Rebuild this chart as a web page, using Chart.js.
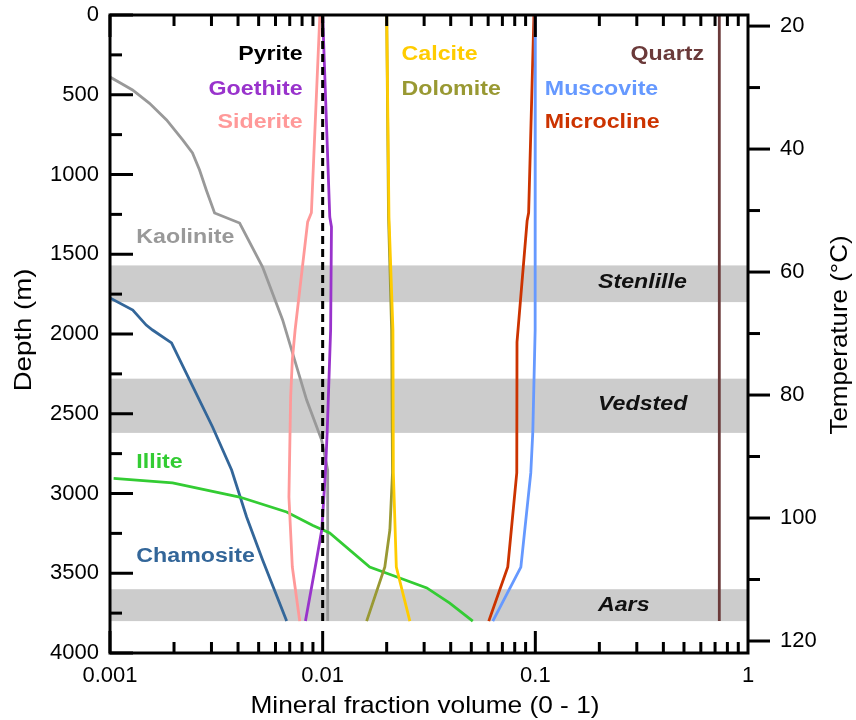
<!DOCTYPE html>
<html><head><meta charset="utf-8">
<script src="https://cdn.jsdelivr.net/npm/chart.js@4.4.0/dist/chart.umd.min.js"></script>
<style>html,body{margin:0;padding:0;background:#fff;}#wrap{width:856px;height:720px;}</style>
</head><body><div id="wrap"><canvas id="c" width="856" height="720"></canvas></div>
<script>
// ---- data ----
const xTickValues = [0.001, 0.01, 0.1, 1];
const xTickLabels = ['0.001', '0.01', '0.1', '1'];
const depthTickValues = [0, 500, 1000, 1500, 2000, 2500, 3000, 3500, 4000];
const tempTickValues = [20, 40, 60, 80, 100, 120];
const tempMinorValues = [30, 50, 70, 90, 110];

const pyriteDepth = [0, 3800];
const pyriteVal = [0.0100, 0.0100];
const goethiteDepth = [0, 1266, 1329, 1975, 2614, 2871, 3229, 3436, 3800];
const goethiteVal = [0.0100, 0.0108, 0.0110, 0.0109, 0.0105, 0.0103, 0.0099, 0.0093, 0.0083];
const sideriteDepth = [0, 1240, 1297, 1975, 2163, 2395, 3022, 3461, 3800];
const sideriteVal = [0.0097, 0.00885, 0.0085, 0.00742, 0.0072, 0.00707, 0.00694, 0.0072, 0.0078];
const calciteDepth = [0, 1266, 1975, 2871, 3461, 3800];
const calciteVal = [0.0200, 0.0205, 0.0214, 0.0215, 0.0222, 0.0257];
const dolomiteDepth = [0, 1266, 1975, 2871, 3229, 3461, 3800];
const dolomiteVal = [0.0200, 0.0204, 0.0211, 0.0213, 0.0207, 0.0196, 0.0161];
const muscoviteDepth = [0, 1975, 2614, 2871, 3461, 3800];
const muscoviteVal = [0.1000, 0.0998, 0.0973, 0.0952, 0.0855, 0.0631];
const microclineDepth = [0, 1240, 1290, 2050, 2870, 3460, 3800];
const microclineVal = [0.0985, 0.0930, 0.0915, 0.0820, 0.0818, 0.0742, 0.0604];
const quartzDepth = [0, 3800];
const quartzVal = [0.733, 0.733];
const kaoliniteDepth = [389, 430, 470, 554, 658, 784, 865, 972, 1097, 1241, 1304, 1580, 1912, 2414, 2665, 2853, 3800];
const kaoliniteVal = [0.00100, 0.00113, 0.001276, 0.001534, 0.001845, 0.002201, 0.002443, 0.002637, 0.002836, 0.003103, 0.004069, 0.005219, 0.006483, 0.008409, 0.00989, 0.01056, 0.01056];
const chamositeDepth = [1774, 1850, 1944, 1975, 2056, 2288, 2583, 2853, 3147, 3417, 3800];
const chamositeVal = [0.00100, 0.00128, 0.00148, 0.001585, 0.001947, 0.002366, 0.003036, 0.003731, 0.004389, 0.005219, 0.006771];
const illiteDepth = [2905, 2934, 3022, 3116, 3200, 3248, 3461, 3530, 3592, 3687, 3800];
const illiteVal = [0.00104, 0.001968, 0.004069, 0.006771, 0.00900, 0.01079, 0.01664, 0.02304, 0.03087, 0.0396, 0.0508];

const bandNames = ['Stenlille', 'Vedsted', 'Aars'];
const bandTop = [1570, 2280, 3600];
const bandBottom = [1800, 2620, 3800];

// ---- styles / annotation placement ----
const FONT = "'Liberation Sans', Arial, sans-serif";
const series = [
  {name:'Pyrite', d:pyriteDepth, v:pyriteVal, color:'#000000', dash:[8,5], w:3},
  {name:'Goethite', d:goethiteDepth, v:goethiteVal, color:'#9933cc'},
  {name:'Siderite', d:sideriteDepth, v:sideriteVal, color:'#ff9999'},
  {name:'Calcite', d:calciteDepth, v:calciteVal, color:'#ffcc00'},
  {name:'Dolomite', d:dolomiteDepth, v:dolomiteVal, color:'#999933'},
  {name:'Muscovite', d:muscoviteDepth, v:muscoviteVal, color:'#6699ff'},
  {name:'Microcline', d:microclineDepth, v:microclineVal, color:'#cc3300'},
  {name:'Quartz', d:quartzDepth, v:quartzVal, color:'#6b3a3a'},
  {name:'Illite', d:illiteDepth, v:illiteVal, color:'#33cc33'},
  {name:'Chamosite', d:chamositeDepth, v:chamositeVal, color:'#336699'},
  {name:'Kaolinite', d:kaoliniteDepth, v:kaoliniteVal, color:'#999999'}
];
const labelPlace = {
  Pyrite:{x:0.00805, d:245, align:'right'}, Goethite:{x:0.00805, d:464, align:'right'}, Siderite:{x:0.00805, d:677, align:'right'},
  Calcite:{x:0.0235, d:245, align:'left'}, Dolomite:{x:0.0235, d:464, align:'left'},
  Muscovite:{x:0.1108, d:464, align:'left'}, Microcline:{x:0.1108, d:677, align:'left'},
  Quartz:{x:0.621, d:245, align:'right'},
  Kaolinite:{x:0.00133, d:1392, align:'left'}, Illite:{x:0.00133, d:2803, align:'left'}, Chamosite:{x:0.00133, d:3392, align:'left'}
};
const bandLabelX = 0.197;
const bandLabelDepth = [1680, 2445, 3699];

function stretchText(ctx, txt, x, y, align, font, color, sx, rot) {
  ctx.save();
  ctx.translate(x, y);
  if (rot) ctx.rotate(rot);
  ctx.scale(sx, 1);
  ctx.font = font; ctx.fillStyle = color; ctx.textAlign = align; ctx.textBaseline = 'middle';
  ctx.fillText(txt, 0, 0);
  ctx.restore();
}

const decor = {
  id: 'decor',
  beforeDatasetsDraw(chart) {
    const {ctx, chartArea: a, scales: {y}} = chart;
    ctx.save();
    ctx.fillStyle = '#cccccc';
    bandTop.forEach((t, i) => {
      const y0 = y.getPixelForValue(t), y1 = y.getPixelForValue(bandBottom[i]);
      ctx.fillRect(a.left, y0, a.right - a.left, y1 - y0);
    });
    ctx.restore();
  },
  afterDatasetsDraw(chart) {
    const {ctx, chartArea: a, scales: {x, y, y2}} = chart;
    ctx.save();
    ctx.strokeStyle = '#000'; ctx.lineWidth = 3; ctx.lineCap = 'butt';
    const line = (x0, y0, x1, y1) => { ctx.beginPath(); ctx.moveTo(x0, y0); ctx.lineTo(x1, y1); ctx.stroke(); };
    for (let k = -3; k < 0; k++) {
      for (let m = 1; m <= 9; m++) {
        const px = x.getPixelForValue(m * Math.pow(10, k));
        const len = m === 1 ? 22 : 11;
        line(px, a.bottom, px, a.bottom - len);
        line(px, a.top, px, a.top + len);
      }
    }
    for (let d = 0; d <= 4000; d += 250) {
      const py = y.getPixelForValue(d);
      line(a.left, py, a.left + (d % 500 === 0 ? 23 : 12), py);
    }
    tempTickValues.forEach(t => { const py = y2.getPixelForValue(t); line(a.right, py, a.right + 22, py); });
    tempMinorValues.forEach(t => { const py = y2.getPixelForValue(t); line(a.right, py, a.right + 12, py); });
    ctx.strokeRect(a.left, a.top, a.right - a.left, a.bottom - a.top);
    ctx.restore();

    // band labels
    bandNames.forEach((n, i) => {
      stretchText(ctx, n, x.getPixelForValue(bandLabelX), y.getPixelForValue(bandLabelDepth[i]), 'left',
        "italic bold 20px " + FONT, '#111', 1.16);
    });
    // series labels
    series.forEach(s => {
      const p = labelPlace[s.name];
      stretchText(ctx, s.name, x.getPixelForValue(p.x), y.getPixelForValue(p.d), p.align,
        "bold 20px " + FONT, s.color, 1.16);
    });
    // axis titles
    const cx = (a.left + a.right) / 2, cy = (a.top + a.bottom) / 2;
    stretchText(ctx, 'Mineral fraction volume (0 - 1)', cx - 4, 706, 'center', "24px " + FONT, '#000', 1.095);
    stretchText(ctx, 'Depth (m)', 24, cy - 4, 'center', "24px " + FONT, '#000', 1.15, -Math.PI / 2);
    stretchText(ctx, 'Temperature (°C)', 840, cy + 1, 'center', "24px " + FONT, '#000', 1.08, -Math.PI / 2);
  }
};

const noPad = s => { s.paddingTop = 0; s.paddingBottom = 0; s.paddingLeft = 0; s.paddingRight = 0; };

new Chart(document.getElementById('c'), {
  type: 'scatter',
  data: {
    datasets: series.map(s => ({
      label: s.name,
      data: s.d.map((d, i) => ({x: s.v[i], y: d})),
      showLine: true, pointRadius: 0, pointHoverRadius: 0,
      borderColor: s.color, backgroundColor: s.color,
      borderWidth: s.w || 2.8, borderDash: s.dash || [], tension: 0,
      yAxisID: 'y'
    }))
  },
  options: {
    responsive: false, animation: false,
    layout: {padding: {top: 15, left: 0, right: 0, bottom: 0}},
    plugins: {legend: {display: false}, tooltip: {enabled: false}},
    scales: {
      x: {
        type: 'logarithmic', min: 0.001, max: 1, position: 'bottom',
        grid: {display: false, drawTicks: false}, border: {display: false},
        afterBuildTicks: s => { s.ticks = xTickValues.map(v => ({value: v})); },
        afterFit: s => { s.height = 67; noPad(s); },
        ticks: {color: '#000', font: {family: FONT, size: 22}, padding: 10, maxRotation: 0, autoSkip: false,
          callback: v => xTickLabels[xTickValues.indexOf(v)]}
      },
      y: {
        type: 'linear', min: 0, max: 4000, reverse: true, position: 'left',
        grid: {display: false, drawTicks: false}, border: {display: false},
        afterBuildTicks: s => { s.ticks = depthTickValues.map(v => ({value: v})); },
        afterFit: s => { s.width = 110; noPad(s); },
        ticks: {color: '#000', font: {family: FONT, size: 22}, padding: 11, callback: v => String(v)}
      },
      y2: {
        type: 'linear', min: 18.2, max: 121.95, reverse: true, position: 'right',
        grid: {display: false, drawTicks: false}, border: {display: false},
        afterBuildTicks: s => { s.ticks = tempTickValues.map(v => ({value: v})); },
        afterFit: s => { s.width = 108; noPad(s); },
        ticks: {color: '#000', font: {family: FONT, size: 22}, padding: 32, callback: v => String(v)}
      }
    }
  },
  plugins: [decor]
});
</script>
</body></html>
